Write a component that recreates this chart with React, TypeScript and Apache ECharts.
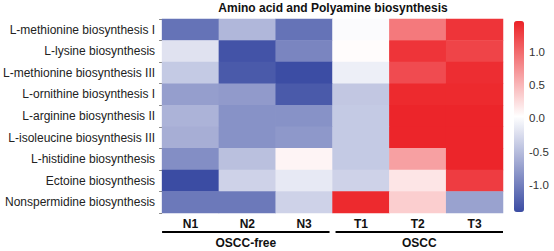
import React, { useEffect, useRef } from "react";
import * as echarts from "echarts";

const titleText = "Amino acid and Polyamine biosynthesis";
const rowNames = [
  "L-methionine biosynthesis I",
  "L-lysine biosynthesis",
  "L-methionine biosynthesis III",
  "L-ornithine biosynthesis I",
  "L-arginine biosynthesis II",
  "L-isoleucine biosynthesis III",
  "L-histidine biosynthesis",
  "Ectoine biosynthesis",
  "Nonspermidine biosynthesis",
];
const colNames = ["N1", "N2", "N3", "T1", "T2", "T3"];
const groupNames = ["OSCC-free", "OSCC"];
const groupSpans = [3, 3];
const values: number[][] = [
  [-1.1, -0.55, -1.1, 0.0, 0.9, 1.35],
  [-0.2, -1.35, -0.95, 0.05, 1.35, 1.25],
  [-0.4, -1.3, -1.4, -0.1, 1.2, 1.4],
  [-0.75, -0.78, -1.3, -0.42, 1.42, 1.42],
  [-0.58, -0.85, -0.85, -0.4, 1.45, 1.45],
  [-0.62, -0.85, -0.8, -0.4, 1.45, 1.45],
  [-0.88, -0.48, 0.1, -0.4, 0.65, 1.45],
  [-1.41, -0.33, -0.15, -0.33, 0.2, 1.3],
  [-1.05, -1.05, -0.33, 1.42, 0.35, -0.72],
];
const scaleMin = -1.41;
const scaleMax = 1.47;
const colorTicks = [-1, -0.5, 0, 0.5, 1];

const FONT = "'Liberation Sans', Arial, sans-serif";

export default function App() {
  const ref = useRef<HTMLDivElement>(null);
  useEffect(() => {
    if (!ref.current) return;
    document.body.style.margin = "0";
    const chart = echarts.init(ref.current, null, { renderer: "svg" });
    const gridLeft = 155;
    const gridTop = 19;
    const gridW = 348;
    const gridH = 194;
    const data: number[][] = [];
    values.forEach((row, r) =>
      row.forEach((v, c) => data.push([c, r, v]))
    );
    chart.setOption({
      animation: false,
      textStyle: { fontFamily: FONT },
      title: {
        text: titleText,
        left: 333,
        textAlign: "center",
        top: 2,
        padding: 0,
        textStyle: { fontSize: 12, fontWeight: "bold", color: "#111", fontFamily: FONT },
      },
      grid: [
        { left: gridLeft, top: gridTop, width: gridW, height: gridH },
        { left: 514, top: 21, width: 10, height: 191 },
      ],
      xAxis: [
        {
          type: "category",
          data: colNames,
          gridIndex: 0,
          position: "bottom",
          axisLine: { show: false },
          axisTick: { show: false },
          axisLabel: { fontSize: 12, fontWeight: "bold", color: "#111", margin: 5, fontFamily: FONT },
          splitLine: { show: false },
        },
        { type: "value", gridIndex: 1, show: false },
      ],
      yAxis: [
        {
          type: "category",
          data: rowNames,
          gridIndex: 0,
          inverse: true,
          axisLine: { show: false },
          axisTick: { show: true, length: 3, lineStyle: { color: "#888" } },
          axisLabel: { fontSize: 12, color: "#222", margin: 7, fontFamily: FONT },
          splitLine: { show: false },
        },
        {
          type: "value",
          gridIndex: 1,
          position: "right",
          min: scaleMin,
          max: scaleMax,
          axisLine: { show: false },
          splitLine: { show: false },
          axisTick: { show: true, length: 2, lineStyle: { color: "#888" }, customValues: colorTicks },
          axisLabel: {
            fontSize: 11.5,
            color: "#333",
            margin: 5,
            fontFamily: FONT,
            customValues: colorTicks,
            formatter: (v: number) => v.toFixed(1),
          },
        },
      ],
      visualMap: {
        type: "continuous",
        min: scaleMin,
        max: scaleMax,
        dimension: 2,
        seriesIndex: 0,
        calculable: false,
        hoverLink: false,
        realtime: false,
        orient: "vertical",
        left: 514,
        top: 21,
        itemWidth: 10,
        itemHeight: 191,
        padding: 0,
        text: ["", ""],
        showLabel: false,
        inRange: { color: ["#3B4CA3", "#FFFFFF", "#EC2227"] },
      },
      series: [
        {
          type: "heatmap",
          xAxisIndex: 0,
          yAxisIndex: 0,
          data,
          emphasis: { disabled: true },
          itemStyle: { borderWidth: 0 },
        },
        { type: "scatter", xAxisIndex: 1, yAxisIndex: 1, data: [] },
      ],
    });

    // group brackets derived from category axis positions
    const c0 = chart.convertToPixel({ xAxisIndex: 0 }, colNames[0]) as number;
    const c1 = chart.convertToPixel({ xAxisIndex: 0 }, colNames[1]) as number;
    const band = c1 - c0;
    const lineY = gridTop + gridH + 19;
    const graphics: any[] = [];
    let start = 0;
    groupNames.forEach((g, i) => {
      const span = groupSpans[i];
      const first = chart.convertToPixel({ xAxisIndex: 0 }, colNames[start]) as number;
      const last = chart.convertToPixel({ xAxisIndex: 0 }, colNames[start + span - 1]) as number;
      const x1 = first - band / 2 + (i === 0 ? 0 : 3);
      const x2 = last + band / 2 - (i === groupNames.length - 1 ? 0 : 3);
      graphics.push({
        type: "line",
        shape: { x1, y1: lineY, x2, y2: lineY },
        style: { stroke: "#000", lineWidth: 2 },
      });
      graphics.push({
        type: "text",
        x: (x1 + x2) / 2,
        y: lineY + 11,
        style: {
          text: g,
          fontSize: 12,
          fontWeight: "bold",
          fill: "#111",
          fontFamily: FONT,
          align: "center",
          verticalAlign: "middle",
        },
      });
      start += span;
    });
    chart.setOption({ graphic: graphics });

    return () => chart.dispose();
  }, []);
  return <div ref={ref} style={{ width: 554, height: 251 }} />;
}
